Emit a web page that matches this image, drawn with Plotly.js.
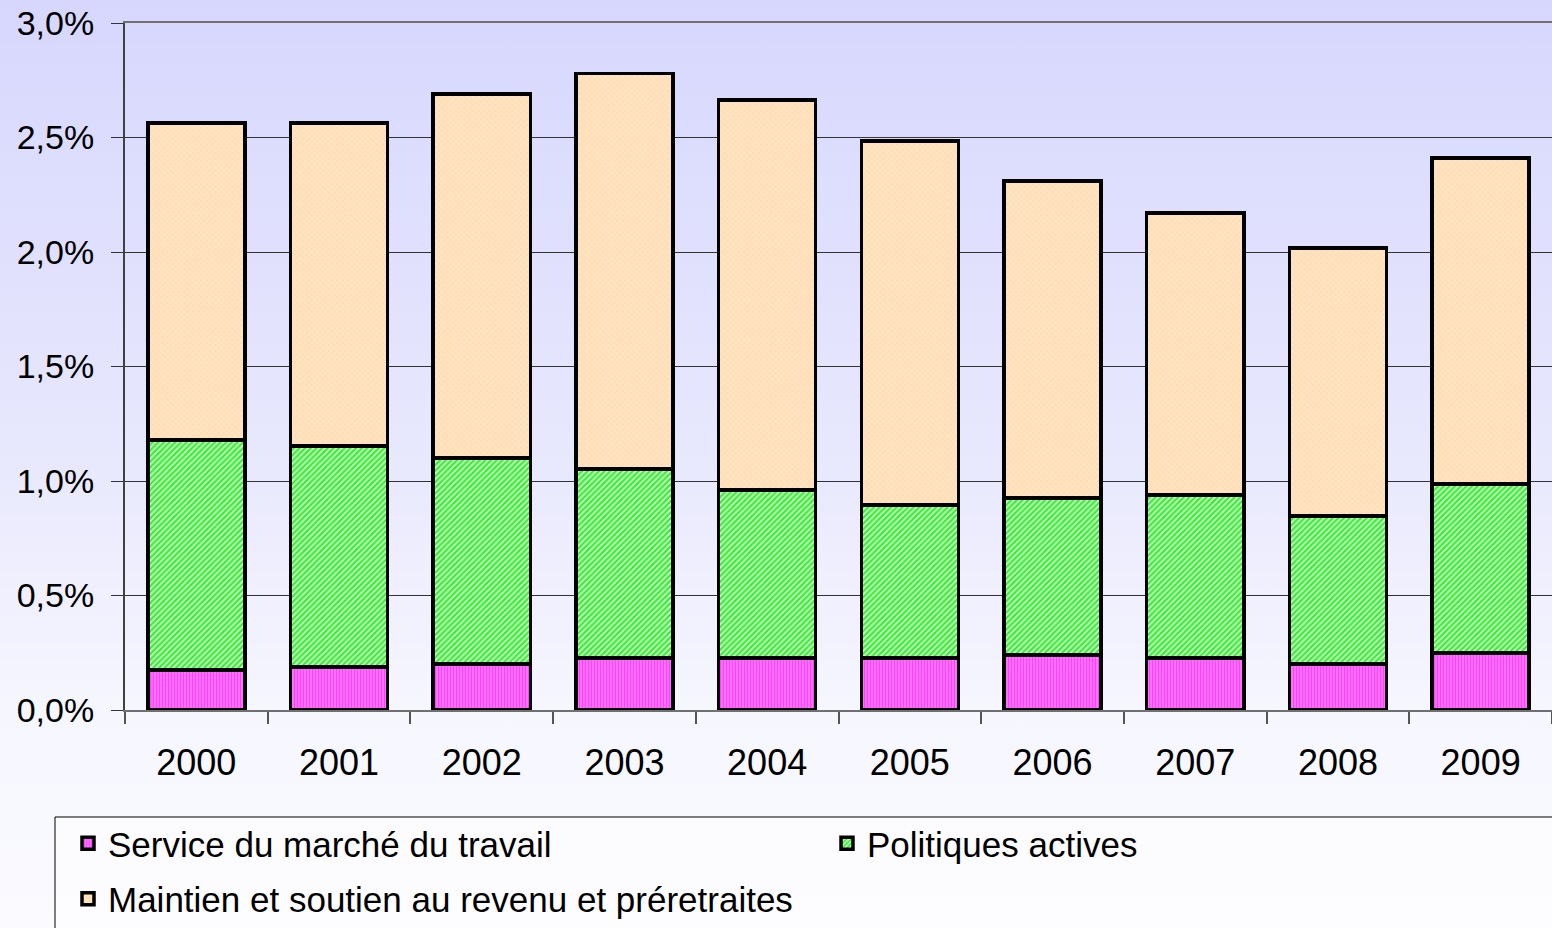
<!DOCTYPE html>
<html>
<head>
<meta charset="utf-8">
<script src="https://cdn.plot.ly/plotly-3.0.1.min.js"></script>
<style>
  html, body { margin: 0; padding: 0; }
  body { width: 1552px; height: 928px; overflow: hidden;
         background: linear-gradient(180deg, #d7d7fe 0%, #e6e6fd 45%, #f6f6ff 76%, #fafaff 100%); }
  #chart { width: 1552px; height: 928px; }
</style>
</head>
<body>
<div id="chart"></div>
<script>
const years = ['2000','2001','2002','2003','2004','2005','2006','2007','2008','2009'];
const serviceMarche = [0.175, 0.188, 0.200, 0.227, 0.227, 0.227, 0.240, 0.227, 0.200, 0.249];
const politiquesActives = [1.004, 0.965, 0.900, 0.825, 0.734, 0.668, 0.686, 0.712, 0.647, 0.738];
const maintienRevenu = [1.384, 1.410, 1.590, 1.728, 1.703, 1.590, 1.384, 1.231, 1.170, 1.423];
const seriesNames = ['Service du marché du travail', 'Politiques actives', 'Maintien et soutien au revenu et préretraites'];
const yTickVals = [0, 0.5, 1.0, 1.5, 2.0, 2.5, 3.0];
const yTickText = ['0,0%', '0,5%', '1,0%', '1,5%', '2,0%', '2,5%', '3,0%'];

const FONT = '"Liberation Sans", Arial, sans-serif';

function barTrace(name, values, bg, fg, shape, size, solidity, legendId, group) {
  return {
    type: 'bar', name: name, x: years, y: values,
    legend: legendId, legendgroup: group,
    marker: {
      color: bg,
      line: { color: '#000000', width: 3.5 },
      pattern: { shape: shape, bgcolor: bg, fgcolor: fg, size: size, solidity: solidity, fillmode: 'replace' }
    },
    hoverinfo: 'skip'
  };
}

const data = [
  barTrace(seriesNames[0], serviceMarche, '#ff70ff', '#ff40ff', '|', 3, 0.35, 'legend', 'g1'),
  barTrace(seriesNames[1], politiquesActives, '#c4ffbc', '#30ec30', '/', 4, 0.5, 'legend2', 'g2'),
  barTrace(seriesNames[2], maintienRevenu, '#ffe4c2', '#ffd4a4', 'x', 4, 0.25, 'legend', 'g3')
];

const legendBase = {
  orientation: 'v',
  traceorder: 'grouped',
  tracegroupgap: 7,
  xref: 'container', yref: 'container',
  xanchor: 'left', yanchor: 'top',
  bgcolor: 'rgba(0,0,0,0)', borderwidth: 0,
  font: { family: FONT, size: 35, color: '#000000' }
};

const layout = {
  width: 1552, height: 928,
  margin: { l: 125, r: 0, t: 23, b: 218, autoexpand: false },
  paper_bgcolor: 'rgba(0,0,0,0)',
  plot_bgcolor: 'rgba(0,0,0,0)',
  barmode: 'stack',
  bargap: 0.32,
  font: { family: FONT, size: 34, color: '#000000' },
  xaxis: {
    type: 'category',
    tickson: 'boundaries',
    tickangle: 0,
    automargin: false,
    ticks: 'outside', ticklen: 12, tickwidth: 2, tickcolor: '#555555',
    showline: true, linecolor: '#707070', linewidth: 2, mirror: true,
    showgrid: false,
    tickfont: { family: FONT, size: 36, color: '#000000' },
    ticklabelstandoff: 20
  },
  yaxis: {
    range: [0, 3.0],
    automargin: false,
    tickvals: yTickVals, ticktext: yTickText,
    ticks: 'outside', ticklen: 12, tickwidth: 1, tickcolor: '#333333',
    showline: true, linecolor: '#404040', linewidth: 2,
    showgrid: true, gridcolor: '#333333', gridwidth: 1,
    zeroline: false,
    tickfont: { family: FONT, size: 34, color: '#000000' },
    ticklabelstandoff: 10
  },
  showlegend: true,
  legend: Object.assign({}, legendBase, { x: 68 / 1552, y: 1 - 814 / 928 }),
  legend2: Object.assign({}, legendBase, { x: 827 / 1552, y: 1 - 814 / 928 }),
  shapes: [{
    type: 'rect', xref: 'paper', yref: 'paper',
    x0: (55 - 125) / 1427, x1: 1.05,
    y0: (710 - 817) / 687, y1: -0.5,
    line: { color: '#000000', width: 1 },
    fillcolor: 'rgba(255,255,255,0.5)',
    layer: 'below'
  }]
};

Plotly.newPlot('chart', data, layout, { staticPlot: true, displayModeBar: false });
</script>
</body>
</html>
